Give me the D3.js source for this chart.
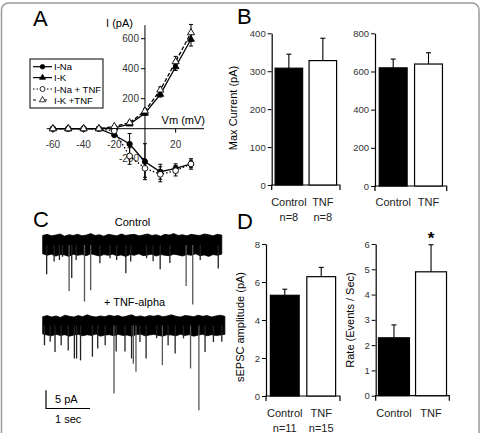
<!DOCTYPE html>
<html><head><meta charset="utf-8">
<script src="https://cdn.jsdelivr.net/npm/d3@7"></script>
<style>body{margin:0;background:#fff}svg{display:block;font-family:"Liberation Sans",Arial,sans-serif}</style>
</head><body><svg id="c" width="481" height="433"></svg>
<script>
// ---------- Panel A: I-V data ----------
const ivVoltages = [-60,-50,-40,-30,-20,-10,0,10,20,30];
const iNa       = [0,0,0,0,-42,-102,-220,-287,-264,-235];
const iNaErr    = [0,0,0,0,8,70,120,50,30,25];
const iK        = [0,0,0,0,5,31,103,229,413,596];
const iKErr     = [0,0,0,0,4,8,12,18,25,45];
const iNaTNF    = [0,0,0,0,-15,-182,-264,-304,-280,-235];
const iNaTNFErr = [0,0,0,0,8,55,60,50,35,35];
const iKTNF     = [0,0,0,0,15,40,118,258,447,640];
const iKTNFErr  = [0,0,0,0,5,10,15,20,35,55];
const ivXTicks = [-60,-40,-20,20];
const ivYTicks = [600,400,200,-200];
const legendLabels = ["I-Na","I-K","I-Na + TNF","I-K +TNF"];

// ---------- Panel B / D: bar data ----------
const groups = ["Control","TNF"];
const naMax = [308,328], naMaxErr = [37,59];
const kMax = [619,639], kMaxErr = [46,59];
const ampVals = [5.3,6.28], ampErr = [0.32,0.49];
const rateVals = [2.29,4.9], rateErr = [0.51,1.07];
const nB = ["n=8","n=8"], nD = ["n=11","n=15"];
const bLeftTicks = [0,100,200,300,400], bRightTicks = [0,200,400,600,800];
const dLeftTicks = [0,2,4,6,8], dRightTicks = [0,1,2,3,4,5,6];

// ---------- Panel C: traces (time s, amplitude pA) ----------
const ctrlSpikeT = [0.09,0.26,0.38,0.45,0.60,0.66,0.76,0.95,1.09,1.30,1.53,1.68,1.89,2.00,2.36,2.51,2.67,2.89,3.26,3.41,3.58,3.99];
const ctrlSpikeA = [8.0,4.5,4.1,3.2,12.5,9.0,4.1,15.4,12.3,5.0,3.6,4.1,7.7,4.5,3.6,4.4,6.6,4.9,11.2,16.2,4.1,6.4];
const tnfSpikeT = [0.04,0.17,0.28,0.42,0.58,0.72,0.77,0.86,1.13,1.25,1.42,1.62,1.67,1.87,2.02,2.06,2.12,2.21,2.35,2.59,2.72,2.85,3.01,3.20,3.36,3.55,3.69,3.88,4.07];
const tnfSpikeA = [5.4,4.4,7.2,5.4,6.8,9.0,9.0,9.5,8.5,6.3,5.4,18.5,7.1,7.1,9.0,10.4,12.6,4.5,9.0,3.5,10.8,5.4,7.6,3.5,11.7,23.1,7.2,4.5,4.4];
const ctrlTop = [2.6,2.9,2.5,2.7,3.0,2.4,2.8,2.6,2.9,2.5,2.7,3.1,2.6,2.8,2.4,2.9,2.7,2.5,3.0,2.6,2.8,2.9,2.5,2.7,3.0,2.6,2.8,2.4,2.9,2.7,3.1,2.6,2.8,2.5,2.9,2.7,2.6,3.0,2.8,2.5,2.9,2.7];
const ctrlBot = [-2.4,-2.8,-2.5,-3.0,-2.6,-2.7,-3.1,-2.5,-2.8,-2.6,-2.9,-2.4,-2.7,-3.0,-2.6,-2.8,-2.5,-2.9,-2.7,-3.1,-2.6,-2.8,-2.4,-2.9,-2.7,-2.5,-3.0,-2.6,-2.8,-2.9,-2.5,-2.7,-3.0,-2.6,-2.8,-2.4,-2.9,-2.7,-3.1,-2.6,-2.8,-2.5];
const tnfTop = [2.4,2.7,2.3,2.6,2.2,2.8,2.5,2.3,2.7,2.4,2.9,2.5,2.3,2.6,2.4,2.8,2.5,2.7,2.3,2.6,2.9,2.4,2.6,2.3,2.7,2.5,2.8,2.4,2.6,2.9,2.5,2.3,2.7,2.6,2.4,2.8,2.5,2.7,2.3,2.6,2.8,2.5];
const tnfBot = [-2.3,-2.6,-2.8,-2.4,-2.7,-2.5,-2.9,-2.6,-2.4,-2.8,-2.5,-2.7,-2.3,-2.9,-2.6,-2.5,-2.8,-2.4,-2.7,-2.6,-2.9,-2.5,-2.3,-2.8,-2.6,-2.4,-2.7,-2.9,-2.5,-2.6,-2.8,-2.4,-2.7,-2.5,-2.9,-2.6,-2.4,-2.8,-2.5,-2.7,-2.6,-2.4];
const ctrlDur = 4.07, tnfDur = 4.14;
const scaleBarT = 1, scaleBarA = 5;

const svg = d3.select("#c");
svg.append("rect").attr("x",1.5).attr("y",3).attr("width",477.5).attr("height",450)
  .attr("rx",7).attr("fill","none").attr("stroke","#9a9a9a").attr("stroke-width",1.5);

function panelLetter(t,x,y){ svg.append("text").attr("x",x).attr("y",y).attr("font-size",22).text(t); }
panelLetter("A",33,26); panelLetter("B",237,24); panelLetter("C",33,227); panelLetter("D",237,229);

// ---------- Panel A ----------
(function(){
  const g = svg.append("g");
  const x = d3.scaleLinear().domain([-60,30]).range([52.9,191]);
  const y = d3.scaleLinear().domain([0,600]).range([128.7,38.7]);
  g.append("line").attr("x1",x(0)).attr("x2",x(0)).attr("y1",y(690)).attr("y2",y(-340)).attr("stroke","#000").attr("stroke-width",1);
  g.append("line").attr("x1",x(-64)).attr("x2",x(38.5)).attr("y1",y(0)).attr("y2",y(0)).attr("stroke","#000").attr("stroke-width",1);
  ivXTicks.forEach(v=>{
    g.append("line").attr("x1",x(v)).attr("x2",x(v)).attr("y1",y(0)).attr("y2",y(0)+4).attr("stroke","#000");
    g.append("text").attr("x",x(v)).attr("y",y(0)+19).attr("text-anchor","middle").attr("font-size",10).attr("fill","#333").text(v);
  });
  ivYTicks.forEach(v=>{
    g.append("line").attr("x1",x(0)-4).attr("x2",x(0)).attr("y1",y(v)).attr("y2",y(v)).attr("stroke","#000");
    g.append("text").attr("x",x(0)-6).attr("y",y(v)+3.5).attr("text-anchor","end").attr("font-size",10).attr("fill","#333").text(v);
  });
  g.append("text").attr("x",133).attr("y",27).attr("text-anchor","end").attr("font-size",11).text("I (pA)");
  g.append("text").attr("x",205).attr("y",123.5).attr("text-anchor","end").attr("font-size",11).text("Vm (mV)");

  const series = [
    {v:iNa, e:iNaErr, dash:null, sym:d3.symbolCircle, size:22, fill:"#000"},
    {v:iK, e:iKErr, dash:null, sym:d3.symbolTriangle, size:20, fill:"#000"},
    {v:iNaTNF, e:iNaTNFErr, dash:"1.5,2", sym:d3.symbolCircle, size:26, fill:"#fff"},
    {v:iKTNF, e:iKTNFErr, dash:"4,2", sym:d3.symbolTriangle, size:22, fill:"#fff"}
  ];
  const line = d3.line().x((d,i)=>x(ivVoltages[i])).y(d=>y(d));
  series.forEach(s=>{
    const p = g.append("path").attr("d",line(s.v)).attr("fill","none").attr("stroke","#000").attr("stroke-width",1.3);
    if(s.dash) p.attr("stroke-dasharray",s.dash);
  });
  series.forEach(s=>{
    s.v.forEach((v,i)=>{
      if(!s.e[i]) return;
      const cx = x(ivVoltages[i]);
      const lo = y(v - s.e[i]), hi = y(v + s.e[i]);
      g.append("line").attr("x1",cx).attr("x2",cx).attr("y1",lo).attr("y2",hi).attr("stroke","#000").attr("stroke-width",1);
      [lo,hi].forEach(yy=>g.append("line").attr("x1",cx-2).attr("x2",cx+2).attr("y1",yy).attr("y2",yy).attr("stroke","#000").attr("stroke-width",1));
    });
  });
  series.forEach(s=>{
    s.v.forEach((v,i)=>{
      g.append("path").attr("d",d3.symbol(s.sym,s.size)()).attr("transform",`translate(${x(ivVoltages[i])},${y(v)})`)
        .attr("fill",s.fill).attr("stroke","#000").attr("stroke-width",0.9);
    });
  });
  // legend
  const lg = g.append("g");
  lg.append("rect").attr("x",30).attr("y",59).attr("width",73).attr("height",49).attr("fill","#fff").attr("stroke","#000").attr("stroke-width",1);
  const ly = [66.7,77.6,89,100];
  series.forEach((s,i)=>{
    const l = lg.append("line").attr("x1",33).attr("x2",52).attr("y1",ly[i]).attr("y2",ly[i]).attr("stroke","#000").attr("stroke-width",1.2);
    if(s.dash) l.attr("stroke-dasharray", i===2?"1.5,2":"3,8");
    lg.append("path").attr("d",d3.symbol(s.sym,s.size*0.75)()).attr("transform",`translate(42.5,${ly[i]})`).attr("fill",s.fill).attr("stroke","#000").attr("stroke-width",0.8);
    lg.append("text").attr("x",54).attr("y",ly[i]+3.5).attr("font-size",9.5).text(legendLabels[i]);
  });
})();

// ---------- bar chart helper ----------
function barChart(o){
  const g = svg.append("g");
  const y = d3.scaleLinear().domain([0,o.max]).range([o.y0,o.yTop]);
  const x = d3.scaleBand().domain(groups).range([o.x0,o.x1]).paddingInner(o.pi).paddingOuter(o.po);
  const yAxis = d3.axisLeft(y).tickValues(o.ticks).tickFormat(d3.format("d")).tickSize(4).tickSizeOuter(0).tickPadding(2);
  const ga = g.append("g").attr("transform",`translate(${o.x0},0)`).call(yAxis);
  ga.selectAll("text").attr("font-size",9.5).attr("fill","#333").attr("font-family","Liberation Sans, Arial, sans-serif");
  ga.select(".domain").attr("stroke-width",1.2);
  g.append("path").attr("d",`M${o.x0},${o.y0+5}V${o.y0}H${o.x1}V${o.y0+5}`).attr("fill","none").attr("stroke","#000").attr("stroke-width",1.2);
  o.vals.forEach((v,i)=>{
    const cx = x(groups[i]) + x.bandwidth()/2;
    g.append("line").attr("x1",cx).attr("x2",cx).attr("y1",y(v)).attr("y2",y(v+o.err[i])).attr("stroke","#000").attr("stroke-width",1.1);
    g.append("line").attr("x1",cx-2.5).attr("x2",cx+2.5).attr("y1",y(v+o.err[i])).attr("y2",y(v+o.err[i])).attr("stroke","#000").attr("stroke-width",1.1);
    g.append("rect").attr("x",x(groups[i])).attr("y",y(v)).attr("width",x.bandwidth()).attr("height",y(0)-y(v))
      .attr("fill",i===0?"#000":"#fff").attr("stroke","#000").attr("stroke-width",1.2);
    g.append("text").attr("x",cx).attr("y",o.labY).attr("text-anchor","middle").attr("font-size",11).attr("fill","#222").text(groups[i]);
    if(o.n) g.append("text").attr("x",cx).attr("y",o.labY+15).attr("text-anchor","middle").attr("font-size",11).attr("fill","#222").text(o.n[i]);
  });
  if(o.title) g.append("text").attr("transform",`translate(${o.tx},${o.ty}) rotate(-90)`).attr("text-anchor","middle").attr("font-size",11).text(o.title);
  return {x,y,g};
}

barChart({x0:271.7,x1:340,y0:185,yTop:33.3,max:400,ticks:bLeftTicks,vals:naMax,err:naMaxErr,pi:0.19,po:0.1,labY:205.5,n:nB,title:"Max Current (pA)",tx:237,ty:108});
barChart({x0:375,x1:446.7,y0:186,yTop:33.3,max:800,ticks:bRightTicks,vals:kMax,err:kMaxErr,pi:0.21,po:0.12,labY:205.5});
barChart({x0:266,x1:340,y0:396,yTop:244,max:8,ticks:dLeftTicks,vals:ampVals,err:ampErr,pi:0.21,po:0.12,labY:417,n:nD,title:"sEPSC amplitude (pA)",tx:244,ty:327});
const dr = barChart({x0:375.7,x1:449.3,y0:395.7,yTop:244,max:6,ticks:dRightTicks,vals:rateVals,err:rateErr,pi:0.165,po:0.075,labY:417,title:"Rate (Events / Sec)",tx:354,ty:320});
dr.g.append("text").attr("x",dr.x("TNF")+dr.x.bandwidth()/2).attr("y",dr.y(rateVals[1]+rateErr[1])-1).attr("text-anchor","middle").attr("font-size",17).attr("font-weight","bold").text("*");

// ---------- Panel C ----------
(function(){
  const g = svg.append("g");
  const tx = d3.scaleLinear().domain([0,1]).range([42.7,86.7]);
  const pxPerPA = 3.67;
  function trace(base, dur, top, bot, st, sa){
    const a = d3.scaleLinear().domain([0,-1]).range([base, base+pxPerPA]);
    const dt = dur/(top.length-1);
    const area = d3.area().x((d,i)=>tx(i*dt)).y0((d,i)=>a(bot[i])).y1(d=>a(d));
    g.append("path").attr("d",area(top)).attr("fill","#000").attr("stroke","#000").attr("stroke-width",0.8);
    st.forEach((t,i)=>{
      g.append("line").attr("x1",tx(t)).attr("x2",tx(t)).attr("y1",base).attr("y2",a(-sa[i]))
        .attr("stroke", sa[i]>10?"#555":"#222").attr("stroke-width",1.3);
    });
    return a;
  }
  trace(245, ctrlDur, ctrlTop, ctrlBot, ctrlSpikeT, ctrlSpikeA);
  trace(325.5, tnfDur, tnfTop, tnfBot, tnfSpikeT, tnfSpikeA);
  g.append("text").attr("x",132.5).attr("y",226).attr("text-anchor","middle").attr("font-size",11).text("Control");
  g.append("text").attr("x",134.5).attr("y",306).attr("text-anchor","middle").attr("font-size",11).text("+ TNF-alpha");
  const sx = 46, sy = 408.5;
  const h = scaleBarA*pxPerPA, w = tx(scaleBarT)-tx(0);
  g.append("path").attr("d",`M${sx},${sy-h}V${sy}H${sx+w}`).attr("fill","none").attr("stroke","#000").attr("stroke-width",1.2);
  g.append("text").attr("x",55).attr("y",403).attr("font-size",11).text(scaleBarA+" pA");
  g.append("text").attr("x",55).attr("y",423).attr("font-size",11).text(scaleBarT+" sec");
})();
</script></body></html>
